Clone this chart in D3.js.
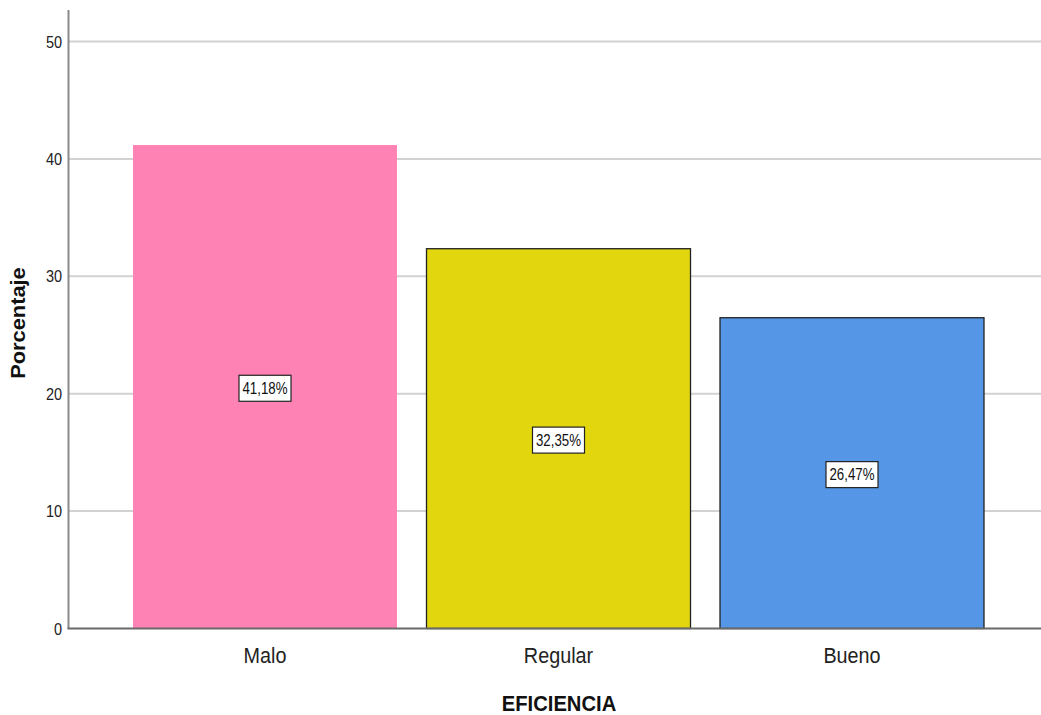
<!DOCTYPE html>
<html>
<head>
<meta charset="utf-8">
<script src="https://cdn.jsdelivr.net/npm/d3@7"></script>
<style>
  html, body { margin: 0; padding: 0; background: #fff; }
  svg { display: block; font-family: "Liberation Sans", Arial, sans-serif; }
</style>
</head>
<body>
<svg id="chart" width="1041" height="715"></svg>
<script>
// Percentage of respondents by efficiency level
const categories = ["Malo", "Regular", "Bueno"];
const values = [41.18, 32.35, 26.47];
const valueLabels = ["41,18%", "32,35%", "26,47%"];
const colors = ["#FF82B4", "#E2D70F", "#5596E6"];
const outlined = [false, true, true];
const yTicks = [0, 10, 20, 30, 40, 50];

const svg = d3.select("#chart");
const axisX = 68.5, chartRight = 1041, axisTop = 10;

const y = d3.scaleLinear().domain([0, 50]).range([628.5, 41.5]);
const x = d3.scaleBand().domain(categories).range([133, 984])
  .paddingInner(1 - 264 / 293.5).paddingOuter(0);

// Horizontal gridlines
svg.append("g").selectAll("line").data(yTicks.filter(d => d > 0)).join("line")
  .attr("x1", axisX).attr("x2", chartRight)
  .attr("y1", d => y(d)).attr("y2", d => y(d))
  .attr("stroke", "#d2d2d2").attr("stroke-width", 2);

// Bars
svg.append("g").selectAll("rect").data(categories).join("rect")
  .attr("x", d => x(d))
  .attr("y", (d, i) => y(values[i]))
  .attr("width", x.bandwidth())
  .attr("height", (d, i) => y(0) - y(values[i]))
  .attr("fill", (d, i) => colors[i])
  .attr("stroke", (d, i) => outlined[i] ? "#222" : "none")
  .attr("stroke-width", 1.3);

// Axes lines
svg.append("line").attr("x1", axisX).attr("x2", axisX)
  .attr("y1", axisTop).attr("y2", y(0))
  .attr("stroke", "#8a8a8a").attr("stroke-width", 2);
svg.append("line").attr("x1", axisX - 1).attr("x2", chartRight)
  .attr("y1", y(0)).attr("y2", y(0))
  .attr("stroke", "#6a6a6a").attr("stroke-width", 2);

// Y tick labels
svg.append("g").selectAll("text").data(yTicks).join("text")
  .attr("transform", d => `translate(62,${y(d)}) scale(1,1.15)`)
  .attr("text-anchor", "end")
  .attr("dy", "0.36em")
  .attr("font-size", 14.5)
  .attr("fill", "#222")
  .text(d => d);

// Category labels
svg.append("g").selectAll("text").data(categories).join("text")
  .attr("transform", d => `translate(${x(d) + x.bandwidth() / 2},655) scale(1,1.08)`)
  .attr("text-anchor", "middle")
  .attr("dy", "0.36em")
  .attr("font-size", 19.8)
  .attr("fill", "#222")
  .text(d => d);

// Value labels in boxes at mid-height of each bar
const lab = svg.append("g").selectAll("g").data(categories).join("g")
  .attr("transform", (d, i) => `translate(${x(d) + x.bandwidth() / 2},${y(values[i] / 2) + 1.5})`);
lab.append("rect")
  .attr("x", -26).attr("y", -13).attr("width", 52).attr("height", 26)
  .attr("fill", "#fff").attr("stroke", "#222").attr("stroke-width", 1.2);
lab.append("text")
  .attr("transform", "scale(1,1.22)")
  .attr("text-anchor", "middle")
  .attr("dy", "0.36em")
  .attr("font-size", 13.3)
  .attr("fill", "#111")
  .text((d, i) => valueLabels[i]);

// Axis titles
svg.append("text")
  .attr("transform", "translate(559,703) scale(1,1.08)")
  .attr("text-anchor", "middle").attr("dy", "0.36em")
  .attr("font-size", 20.2).attr("font-weight", "bold").attr("fill", "#111")
  .text("EFICIENCIA");
svg.append("text")
  .attr("transform", "translate(18,323) rotate(-90) scale(1.08,1)")
  .attr("text-anchor", "middle").attr("dy", "0.36em")
  .attr("font-size", 20.2).attr("font-weight", "bold").attr("fill", "#111")
  .text("Porcentaje");
</script>
</body>
</html>
